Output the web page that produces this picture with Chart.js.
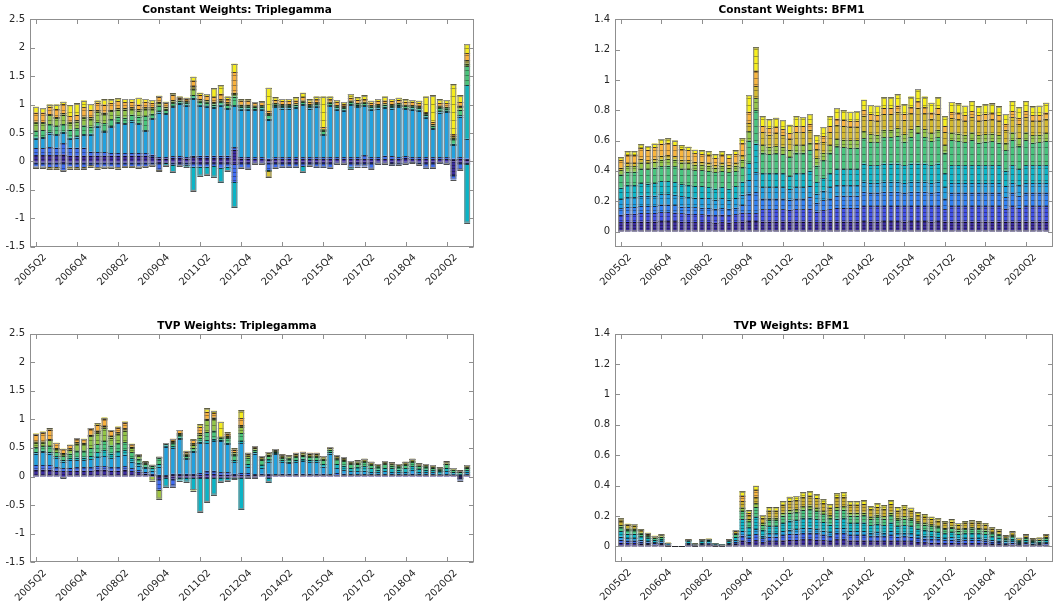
<!DOCTYPE html>
<html>
<head>
<meta charset="utf-8">
<title>Combination weights</title>
<script src="https://cdn.jsdelivr.net/npm/chart.js@4.4.1/dist/chart.umd.min.js"></script>
<style>
  html, body { margin: 0; padding: 0; background: #ffffff; }
  body { width: 1059px; height: 605px; position: relative; overflow: hidden; }
  canvas { position: absolute; }
</style>
</head>
<body>
<canvas id="cwTriple" width="530" height="300" style="left:0px; top:0px;"></canvas>
<canvas id="cwBfm" width="529" height="300" style="left:530px; top:0px;"></canvas>
<canvas id="tvpTriple" width="530" height="305" style="left:0px; top:300px;"></canvas>
<canvas id="tvpBfm" width="529" height="305" style="left:530px; top:300px;"></canvas>
<script>
// ============================
// CATEGORIES / TICKS
// ============================
const quarters = [
  "2005Q2","2005Q3","2005Q4","2006Q1","2006Q2","2006Q3","2006Q4","2007Q1","2007Q2","2007Q3",
  "2007Q4","2008Q1","2008Q2","2008Q3","2008Q4","2009Q1","2009Q2","2009Q3","2009Q4","2010Q1",
  "2010Q2","2010Q3","2010Q4","2011Q1","2011Q2","2011Q3","2011Q4","2012Q1","2012Q2","2012Q3",
  "2012Q4","2013Q1","2013Q2","2013Q3","2013Q4","2014Q1","2014Q2","2014Q3","2014Q4","2015Q1",
  "2015Q2","2015Q3","2015Q4","2016Q1","2016Q2","2016Q3","2016Q4","2017Q1","2017Q2","2017Q3",
  "2017Q4","2018Q1","2018Q2","2018Q3","2018Q4","2019Q1","2019Q2","2019Q3","2019Q4","2020Q1",
  "2020Q2","2020Q3","2020Q4","2021Q1"
];
const xTickIdx = [0, 6, 12, 18, 24, 30, 36, 42, 48, 54, 60];
const yTicksTriple = [-1.5, -1, -0.5, 0, 0.5, 1, 1.5, 2, 2.5];
const yTicksBfm = [0, 0.2, 0.4, 0.6, 0.8, 1, 1.2, 1.4];

// ============================
// CONSTANT WEIGHTS: TRIPLEGAMMA
// ============================
const tlPurple = [
  .11,.11,.11,.11,.12,.10,.10,.10,.10,.10, .10,.10,.10,.10,.10,.10,.10,.08,.05,.05,
  .06,.06,.05,.07,.06,.06,.06,.06,.06,.20, .05,.05,.04,.04,.03,.04,.04,.04,.04,.04,
  .04,.04,.04,.04,.04,.04,.04,.04,.04,.04, .04,.04,.04,.04,.06,.04,.04,.04,.04,.04,
  .04,.03,.04,.03];
const tlBlue = [
  .12,.12,.14,.13,.20,.14,.14,.14,.07,.06, .06,.05,.05,.05,.05,.05,.05,.04,.03,.03,
  .03,.03,.03,.03,.04,.04,.04,.04,.04,.05, .03,.03,.03,.03,.02,.03,.03,.03,.03,.03,
  .03,.03,.03,.03,.03,.03,.03,.03,.07,.03, .03,.06,.05,.03,.03,.03,.03,.03,.03,.03,
  .03,.02,.03,.02];
const tlLightBlue = [
  .17,.18,.24,.22,.18,.16,.18,.22,.30,.45, .35,.45,.52,.50,.55,.50,.38,.62,.78,.75,
  .86,.92,.90,1.0,.88,.86,.84,.88,.82,.72, .83,.83,.83,.84,.68,.88,.86,.86,.87,.92,
  .86,.89,.39,.90,.84,.82,.92,.88,.86,.84, .86,.84,.84,.88,.83,.84,.82,.70,.50,.79,
  .80,.24,.72,.35];
const tlTeal = [
  .02,.02,.02,.02,.02,.02,.02,.02,.02,.02, .02,.02,.02,.02,.02,.02,.02,.02,.02,.02,
  .02,.02,.02,.02,.02,.02,.02,.02,.02,.02, .02,.02,.02,.02,.02,.02,.02,.02,.02,.02,
  .02,.02,.02,.02,.02,.02,.02,.02,.02,.02, .02,.02,.02,.02,.02,.02,.02,.02,.02,.02,
  .02,.02,.02,.94];
const tlGreen = [
  .12,.12,.15,.14,.14,.14,.14,.15,.12,.06, .14,.12,.10,.10,.10,.12,.25,.08,.10,.05,
  .05,.03,.03,.05,.05,.05,.04,.04,.05,.15, .03,.03,.03,.03,.06,.03,.03,.03,.03,.03,
  .03,.03,.06,.03,.03,.03,.03,.03,.03,.03, .03,.03,.03,.03,.03,.03,.03,.03,.03,.06,
  .04,.08,.10,.33];
const tlLime = [
  .14,.12,.15,.14,.16,.12,.12,.14,.14,.18, .16,.14,.12,.14,.10,.10,.12,.08,.04,.03,
  .03,.01,.01,.10,.02,.02,.02,.02,.02,.04, .01,.01,.01,.01,.02,.01,.01,.01,.01,.01,
  .01,.01,.02,.01,.01,.01,.01,.01,.01,.01, .01,.01,.01,.01,.01,.01,.01,.01,.01,.02,
  .01,.02,.04,.05];
const tlOlive = [
  .02,.02,.02,.02,.03,.02,.02,.02,.03,.03, .03,.03,.03,.03,.03,.03,.03,.03,.03,.03,
  .03,.02,.02,.05,.03,.03,.03,.03,.03,.03, .03,.03,.02,.02,.02,.02,.02,.02,.02,.02,
  .02,.02,.01,.02,.02,.02,.02,.02,.02,.02, .02,.02,.02,.02,.02,.02,.02,.02,.03,.02,
  .02,.03,.03,.06];
const tlOrange = [
  .16,.17,.13,.14,.16,.10,.10,.16,.13,.13, .14,.12,.12,.10,.10,.08,.10,.08,.08,.06,
  .08,.03,.04,.10,.07,.07,.08,.10,.06,.36, .06,.06,.05,.05,.04,.05,.05,.05,.05,.06,
  .04,.05,.03,.04,.05,.04,.05,.05,.05,.04, .05,.05,.05,.05,.05,.05,.05,.02,.04,.05,
  .06,.04,.06,.12];
const tlYellow = [
  .10,.08,.04,.08,.04,.19,.20,.12,.10,.04, .09,.06,.05,.06,.05,.12,.05,.05,.025,.03,
  .035,.02,.02,.07,.04,.035,.155,.15,.04,.15, .03,.03,.015,.015,.406,.046,.04,.04,.056,.08,
  .04,.05,.54,.05,.04,.035,.065,.046,.06,.037, .04,.07,.04,.04,.04,.04,.047,.27,.46,.06,
  .06,.875,.12,.165];
const tlNegPurple = [
  -.02,-.02,-.02,-.02,-.03,-.02,-.02,-.02,-.02,-.02, -.02,-.02,-.02,-.02,-.02,-.02,-.02,-.02,-.03,-.02,
  -.02,-.03,-.02,-.03,-.03,-.03,-.03,-.03,-.03,-.05, -.03,-.03,-.02,-.02,-.02,-.03,-.03,-.03,-.03,-.03,
  -.03,-.03,-.03,-.03,-.02,-.02,-.03,-.03,-.03,-.03, -.02,-.02,-.03,-.02,-.02,-.01,-.02,-.03,-.03,-.015,
  -.02,-.24,-.03,-.02];
const tlNegBlue = [
  -.07,-.07,-.08,-.08,-.12,-.07,-.08,-.08,-.05,-.08, -.07,-.07,-.08,-.06,-.06,-.07,-.06,-.04,-.12,-.01,
  -.04,-.05,-.04,-.06,-.06,-.06,-.05,-.08,-.06,-.31, -.09,-.10,-.027,-.027,-.13,-.09,-.075,-.075,-.075,-.05,
  -.05,-.075,-.075,-.09,-.03,-.03,-.06,-.06,-.06,-.10, -.03,-.03,-.04,-.04,-.03,-.015,-.045,-.08,-.09,-.02,
  -.03,-.08,-.12,-.03];
const tlNegCyan = [
  0,0,0,0,0,0,0,0,0,0, 0,0,0,0,0,0,0,0,0,-.05,
  -.13,0,-.035,-.43,-.16,-.15,-.19,-.26,-.08,-.45, 0,0,0,0,-.02,0,0,0,0,-.11,
  0,0,0,0,0,0,-.04,0,0,0, 0,0,0,0,0,0,0,0,0,0,
  0,0,0,-1.03];
const tlNegYellow = [
  -.03,-.03,-.04,-.04,-.02,-.04,-.04,-.035,-.025,-.03, -.03,-.03,-.03,-.025,-.025,-.03,-.02,-.02,-.015,0,
  0,0,0,0,0,0,0,0,0,0, 0,0,0,0,-.11,0,0,0,0,0,
  0,0,0,0,0,0,0,0,0,0, 0,0,0,0,0,0,0,0,0,0,
  0,0,0,0];

// ============================
// CONSTANT WEIGHTS: BFM1
// ============================
const trPurple = [
  .06,.063,.063,.066,.065,.066,.068,.068,.067,.064, .063,.062,.06,.06,.058,.06,.058,.06,.066,.07,
  .07,.066,.066,.066,.066,.066,.066,.066,.066,.06, .065,.066,.066,.066,.066,.066,.068,.066,.066,.068,
  .068,.068,.066,.068,.068,.068,.066,.068,.066,.066, .066,.066,.066,.066,.066,.066,.066,.066,.066,.066,
  .066,.066,.066,.066];
const trIndigo = [
  .05,.054,.054,.056,.056,.056,.058,.058,.057,.055, .054,.053,.053,.052,.05,.052,.05,.053,.058,.05,
  .05,.08,.08,.08,.08,.078,.08,.08,.085,.07, .075,.08,.09,.09,.09,.09,.10,.10,.10,.10,
  .10,.10,.10,.10,.10,.10,.10,.10,.08,.10, .10,.10,.10,.10,.10,.10,.10,.085,.10,.09,
  .10,.10,.10,.10];
const trBlue = [
  .042,.045,.045,.047,.047,.047,.05,.05,.048,.046, .045,.044,.044,.043,.042,.043,.042,.044,.05,.13,
  .14,.07,.07,.07,.07,.066,.07,.07,.075,.06, .065,.07,.08,.08,.08,.08,.095,.09,.09,.095,
  .095,.095,.09,.095,.095,.095,.09,.095,.07,.09, .09,.09,.09,.09,.09,.09,.09,.075,.09,.08,
  .09,.09,.09,.09];
const trAzure = [
  .062,.065,.065,.068,.068,.068,.07,.07,.07,.067, .066,.064,.064,.063,.06,.063,.06,.064,.07,.09,
  .13,.075,.075,.075,.075,.07,.075,.075,.075,.06, .065,.075,.07,.07,.07,.07,.065,.065,.065,.065,
  .065,.065,.065,.065,.065,.065,.065,.065,.075,.065, .065,.065,.065,.065,.065,.065,.065,.075,.065,.07,
  .065,.065,.065,.065];
const trTeal = [
  .075,.078,.078,.082,.08,.082,.085,.085,.084,.08, .078,.077,.077,.076,.073,.076,.073,.077,.084,.11,
  .19,.094,.094,.094,.094,.085,.094,.094,.10,.075, .08,.094,.105,.105,.105,.105,.12,.115,.115,.12,
  .12,.12,.115,.12,.12,.12,.115,.12,.094,.115, .115,.115,.115,.115,.115,.115,.115,.10,.115,.105,
  .115,.115,.115,.115];
const trGreen = [
  .086,.09,.09,.096,.094,.101,.099,.104,.104,.103, .104,.105,.107,.106,.107,.106,.107,.102,.097,.15,
  .22,.135,.125,.13,.125,.125,.135,.135,.135,.11, .12,.135,.15,.145,.14,.142,.166,.155,.152,.173,
  .173,.183,.157,.176,.20,.176,.162,.173,.135,.165, .16,.152,.167,.15,.157,.16,.15,.135,.167,.153,
  .167,.15,.152,.162];
const trLime = [
  .03,.035,.035,.04,.04,.04,.045,.045,.045,.04, .04,.035,.035,.035,.03,.035,.03,.035,.05,.06,
  .08,.05,.05,.05,.05,.05,.05,.05,.05,.05, .05,.05,.05,.05,.05,.05,.05,.05,.05,.05,
  .05,.05,.05,.05,.05,.05,.05,.05,.05,.05, .05,.05,.05,.05,.05,.05,.05,.05,.05,.05,
  .05,.05,.05,.05];
const trGold = [
  .015,.02,.02,.025,.02,.02,.025,.025,.02,.02, .02,.02,.02,.02,.02,.02,.02,.02,.03,.055,
  .08,.085,.08,.085,.075,.07,.085,.085,.085,.06, .07,.085,.094,.09,.087,.088,.10,.092,.09,.104,
  .104,.11,.094,.105,.12,.105,.097,.104,.085,.098, .095,.09,.10,.09,.094,.095,.09,.085,.10,.096,
  .10,.09,.09,.097];
const trOrange = [
  .05,.055,.055,.07,.07,.075,.08,.08,.075,.07, .065,.055,.05,.05,.045,.05,.045,.055,.08,.075,
  .10,.04,.04,.04,.04,.04,.04,.04,.04,.04, .04,.04,.04,.04,.04,.04,.04,.04,.04,.04,
  .04,.04,.04,.04,.04,.04,.04,.04,.04,.04, .04,.04,.04,.04,.04,.04,.04,.04,.04,.04,
  .04,.04,.04,.04];
const trYellow = [
  .02,.025,.025,.025,.025,.025,.03,.03,.03,.025, .025,.025,.025,.025,.025,.025,.025,.025,.03,.11,
  .155,.065,.06,.06,.06,.055,.065,.06,.064,.05, .06,.065,.07,.064,.062,.064,.066,.062,.062,.07,
  .07,.074,.063,.071,.082,.071,.065,.07,.065,.066, .064,.062,.067,.059,.063,.064,.059,.064,.067,.07,
  .067,.059,.062,.065];

// ============================
// TVP WEIGHTS: TRIPLEGAMMA
// ============================
const blPurple = [
  .12,.12,.12,.10,.09,.09,.10,.10,.10,.12, .12,.10,.10,.12,.09,.07,.05,.03,.01,.01,
  .02,.02,.02,.02,.02,.04,.04,.03,.03,.02, .02,.02,.02,.02,.02,.02,.02,.02,.02,.02,
  .02,.02,.02,.02,.02,.02,.02,.02,.02,.02, .02,.02,.02,.02,.02,.02,.02,.02,.02,.02,
  .02,.02,.01,.02];
const blBlue = [
  .08,.08,.08,.06,.05,.06,.06,.06,.06,.06, .06,.06,.06,.06,.05,.04,.03,.02,.02,.01,
  .03,.03,.03,.03,.04,.06,.06,.04,.04,.03, .04,.04,.02,.03,.03,.02,.03,.03,.03,.03,
  .03,.03,.03,.02,.04,.03,.02,.02,.02,.02, .02,.02,.02,.02,.02,.03,.02,.02,.02,.01,
  .02,.01,.01,.02];
const blLightBlue = [
  .20,.22,.20,.16,.12,.14,.12,.12,.14,.16, .18,.16,.20,.20,.12,.08,.06,.05,.14,.50,
  .45,.60,.25,.38,.52,.48,.52,.55,.50,.20, .52,.10,.36,.10,.20,.35,.20,.18,.20,.22,
  .20,.20,.12,.36,.09,.06,.05,.05,.06,.04, .03,.05,.04,.03,.04,.06,.04,.03,.03,.02,
  .05,.02,.01,.03];
const blTeal = [
  .03,.03,.03,.03,.03,.03,.05,.05,.06,.08, .10,.08,.08,.08,.06,.05,.03,.04,.05,.02,
  .03,.03,.02,.02,.03,.05,.04,.02,.02,.04, .04,.06,.03,.05,.05,.02,.03,.03,.04,.04,
  .04,.04,.05,.03,.07,.08,.06,.07,.08,.06, .05,.06,.06,.05,.06,.07,.05,.05,.04,.04,
  .06,.03,.02,.04];
const blGreen = [
  .08,.08,.10,.07,.06,.08,.12,.12,.14,.14, .16,.14,.14,.14,.10,.07,.04,.04,.10,.02,
  .05,.04,.04,.05,.06,.15,.14,.03,.08,.08, .14,.10,.03,.08,.06,.02,.04,.05,.05,.05,
  .05,.05,.07,.03,.08,.08,.06,.06,.07,.06, .05,.06,.05,.05,.06,.07,.05,.05,.04,.03,
  .06,.03,.02,.04];
const blLime = [
  .08,.06,.10,.06,.04,.06,.12,.12,.20,.20, .22,.14,.16,.20,.08,.04,.02,.01,.02,.01,
  .02,.02,.02,.05,.06,.20,.20,.01,.02,.03, .10,.03,.01,.02,.02,.01,.02,.02,.02,.02,
  .02,.02,.02,.01,.02,.02,.02,.02,.02,.018, .01,.02,.02,.01,.02,.02,.01,.01,.01,.01,
  .014,.01,.005,.01];
const blOlive = [
  .02,.02,.02,.02,.02,.03,.03,.02,.03,.04, .04,.03,.03,.04,.02,.02,.02,.015,.005,.006,
  .02,.02,.02,.03,.03,.03,.03,.01,.02,.03, .04,.04,.03,.04,.04,.03,.04,.04,.04,.04,
  .04,.04,.04,.03,.035,.04,.04,.04,.04,.04, .04,.04,.04,.04,.04,.04,.04,.04,.04,.03,
  .04,.03,.03,.04];
const blOrange = [
  .12,.15,.17,.08,.067,.057,.064,.06,.10,.10, .12,.085,.083,.10,.044,.013,.004,0,0,.01,
  .04,.05,.03,.05,.10,.12,.08,.005,.04,.04, .12,.02,.02,.017,.01,.005,.007,0,.016,.014,
  .016,.016,.007,.006,0,0,0,0,0,0, 0,0,0,0,0,0,0,0,0,0,
  0,0,0,0];
const blYellow = [
  .02,.025,.02,.01,.01,.01,.01,.01,.02,.03, .03,.02,.02,.02,.01,.01,.01,0,0,0,
  0,.005,.02,.02,.05,.06,.04,.26,.02,.02, .135,.006,.013,0,0,.005,0,0,0,0,
  0,0,0,.01,.02,.01,0,0,0,0, 0,0,0,0,0,0,0,0,0,0,
  0,0,0,0];
const blNegPurple = [
  0,0,0,0,-.01,0,0,0,0,0, 0,0,0,0,0,0,0,0,-.05,-.02,
  -.04,-.02,-.02,-.02,-.03,-.03,-.02,-.02,-.02,-.02, -.02,-.02,-.02,0,-.02,0,0,0,0,0,
  0,0,0,0,0,0,0,0,0,0, 0,0,0,0,0,0,0,0,0,0,
  0,0,-.03,0];
const blNegBlue = [
  0,0,0,0,-.02,0,0,0,0,0, 0,0,0,0,0,0,0,0,-.18,0,
  -.14,0,0,0,0,0,0,0,0,0, 0,0,0,0,0,0,0,0,0,0,
  0,0,0,0,0,0,0,0,0,0, 0,0,0,0,0,0,0,0,0,0,
  0,0,-.04,0];
const blNegCyan = [
  0,0,0,0,0,0,0,0,0,0, 0,0,0,0,0,0,0,0,0,-.16,
  0,-.05,-.07,-.20,-.59,-.415,-.30,-.075,-.06,-.015, -.555,0,0,0,-.08,0,0,0,0,0,
  0,0,0,0,0,0,0,0,0,0, 0,0,0,0,0,0,0,0,0,0,
  0,0,0,0];
const blNegLime = [
  0,0,0,0,0,0,0,0,0,0, 0,0,0,0,0,0,0,-.07,-.16,0,
  0,0,0,-.025,0,0,0,0,0,0, 0,0,0,0,0,0,0,0,0,0,
  0,0,0,0,0,0,0,0,0,0, 0,0,0,0,0,0,0,0,0,0,
  0,0,0,0];

// ============================
// TVP WEIGHTS: BFM1
// ============================
const brPurple = [
  .025,.02,.02,.018,.015,.012,.014,.006,.001,.001, .01,.005,.01,.011,.005,.004,.01,.016,.037,.03,
  .04,.028,.033,.033,.039,.043,.043,.046,.047,.045, .04,.036,.046,.046,.039,.039,.039,.034,.037,.035,
  .039,.033,.035,.033,.029,.027,.025,.024,.021,.023, .02,.021,.022,.021,.02,.017,.015,.01,.013,.008,
  .011,.007,.008,.011];
const brBlue = [
  .02,.018,.018,.014,.011,.009,.01,.004,.001,.001, .007,.003,.007,.008,.004,.003,.007,.013,.035,.025,
  .04,.025,.031,.031,.036,.039,.04,.043,.044,.041, .037,.033,.042,.043,.036,.036,.036,.032,.034,.032,
  .036,.031,.032,.031,.027,.025,.024,.022,.02,.021, .018,.02,.021,.02,.018,.015,.014,.009,.012,.007,
  .01,.007,.007,.01];
const brAzure = [
  .02,.015,.015,.012,.01,.008,.009,.003,0,0, .006,.002,.006,.006,.003,.002,.006,.011,.03,.02,
  .035,.018,.023,.023,.027,.029,.03,.032,.033,.031, .028,.025,.032,.032,.027,.027,.027,.024,.026,.024,
  .027,.023,.024,.023,.02,.019,.018,.017,.015,.016, .014,.015,.015,.015,.014,.011,.01,.007,.009,.005,
  .007,.005,.005,.007];
const brTeal = [
  .035,.03,.03,.022,.018,.014,.016,.005,.001,.001, .01,.004,.01,.011,.004,.003,.01,.022,.077,.05,
  .08,.038,.046,.046,.053,.059,.06,.064,.065,.062, .056,.05,.063,.064,.053,.053,.055,.048,.051,.049,
  .055,.046,.049,.046,.04,.038,.035,.033,.03,.032, .028,.03,.031,.03,.027,.023,.02,.013,.018,.01,
  .014,.01,.011,.015];
const brGreen = [
  .03,.025,.025,.018,.014,.011,.012,.004,0,0, .008,.003,.008,.008,.003,.002,.008,.018,.055,.04,
  .065,.033,.041,.041,.048,.052,.053,.057,.058,.055, .05,.044,.056,.057,.048,.048,.048,.042,.045,.043,
  .048,.041,.043,.041,.036,.034,.031,.03,.026,.028, .025,.026,.027,.026,.024,.02,.018,.012,.016,.009,
  .013,.008,.009,.013];
const brLime = [
  .01,.01,.008,.006,.005,.004,.004,.001,0,0, .002,.001,.002,.002,.001,0,.002,.006,.022,.015,
  .025,.012,.015,.015,.018,.02,.02,.021,.022,.021, .019,.017,.021,.021,.018,.018,.018,.016,.017,.016,
  .018,.015,.016,.015,.013,.013,.012,.011,.01,.011, .009,.01,.01,.01,.009,.008,.007,.004,.006,.004,
  .005,.003,.004,.005];
const brGold = [
  .03,.022,.021,.017,.012,.009,.011,.002,0,0, .004,.002,.004,.005,.002,.001,.004,.016,.04,.027,
  .04,.035,.047,.047,.053,.059,.06,.064,.065,.062, .056,.05,.063,.064,.053,.053,.055,.048,.051,.049,
  .055,.047,.049,.046,.04,.038,.035,.033,.03,.032, .028,.03,.031,.03,.028,.023,.021,.013,.018,.01,
  .014,.009,.011,.015];
const brOrange = [
  .005,0,0,0,0,0,0,0,0,0, 0,0,0,0,0,0,0,0,.037,.01,
  .045,0,0,0,0,0,0,0,0,0, 0,0,0,0,0,0,0,0,0,0,
  0,0,0,0,0,0,0,0,0,0, 0,0,0,0,0,0,0,0,0,0,
  0,0,0,0];
const brYellow = [
  .01,.01,.01,.007,.005,.003,.004,.001,0,0, .001,0,.001,.001,0,0,.001,.006,.03,.02,
  .03,.018,.021,.021,.023,.026,.026,.029,.029,.026, .024,.022,.027,.029,.023,.023,.025,.02,.023,.022,
  .025,.021,.022,.02,.019,.017,.016,.015,.013,.015, .012,.013,.014,.013,.012,.01,.009,.005,.007,.004,
  .005,.004,.004,.005];

// ============================
// STYLE
// ============================
const fontFamily = "'DejaVu Sans', sans-serif";
const segEdge = "rgba(0,0,0,0.68)";
const outlineColor = "#8d8d8d";
const axisColor = "#8f8f8f";
const labelColor = "#262626";

const tripleColors = {
  purple: "#3b2a9f", blue: "#3d6ff0", lightBlue: "#22a1de", teal: "#15b5bd",
  green: "#48c47a", lime: "#92c548", olive: "#8d8538", orange: "#f8b13e", yellow: "#f5ec1e",
  negPurple: "#3a2c9c", negBlue: "#3f6cf2", negCyan: "#0ab4c6"
};
const bfmColors = {
  purple: "#3b2b9f", indigo: "#4150e4", blue: "#2f80f3", azure: "#1e9fe2", teal: "#0db5c6",
  green: "#48c47e", lime: "#93c648", gold: "#d4b92f", orange: "#f9b53e", yellow: "#f7ef1c"
};

// thin dark stripes inside a band, the look of many tiny stacked segments
function stripes(color, gap) {
  if (!gap) return color;
  const c = document.createElement("canvas");
  c.width = 4; c.height = gap;
  const g = c.getContext("2d");
  g.fillStyle = color; g.fillRect(0, 0, 4, gap);
  g.fillStyle = "rgba(0,0,0,0.33)"; g.fillRect(0, 0, 4, 1);
  return g.createPattern(c, "repeat");
}

// dark edge line at the end of every segment, 1px whatever the segment height
const edgePlugin = {
  id: "edges",
  afterDatasetDraw(chart, args) {
    const meta = args.meta;
    if (meta.stack === "outline") return;
    const ctx = chart.ctx;
    ctx.save();
    ctx.strokeStyle = segEdge;
    ctx.lineWidth = 1;
    ctx.beginPath();
    meta.data.forEach((el, j) => {
      const p = meta._parsed[j];
      if (!p || p.y === null || p.y === undefined || isNaN(p.y)) return;
      const yy = Math.round(el.y) + 0.5;
      ctx.moveTo(el.x - el.width / 2, yy);
      ctx.lineTo(el.x + el.width / 2, yy);
    });
    ctx.stroke();
    ctx.restore();
  }
};

// axes box with inward ticks on all four sides
const boxPlugin = {
  id: "box",
  afterDraw(chart) {
    const { ctx, chartArea: a, scales: { x, y } } = chart;
    const L = Math.round(a.left) + 0.5, R = Math.round(a.right) - 0.5;
    const T = Math.round(a.top) + 0.5, B = Math.round(a.bottom) - 0.5;
    const len = 4.5;
    ctx.save();
    ctx.strokeStyle = axisColor;
    ctx.lineWidth = 1;
    ctx.strokeRect(L, T, R - L, B - T);
    ctx.beginPath();
    x.ticks.forEach(t => {
      const px = Math.round(x.getPixelForValue(t.value)) + 0.5;
      ctx.moveTo(px, B); ctx.lineTo(px, B - len);
      ctx.moveTo(px, T); ctx.lineTo(px, T + len);
    });
    y.ticks.forEach(t => {
      const py = Math.round(y.getPixelForValue(t.value)) + 0.5;
      ctx.moveTo(L, py); ctx.lineTo(L + len, py);
      ctx.moveTo(R, py); ctx.lineTo(R - len, py);
    });
    ctx.stroke();
    ctx.restore();
  }
};

function makeChart(id, title, bands, yTicks, yMin, yMax, fit) {
  const datasets = bands.map(b => ({
    data: b.data.map((v, i) => ({ x: i, y: v === 0 ? null : v })),
    backgroundColor: stripes(b.color, b.gap),
    borderWidth: 0,
    stack: "w"
  }));

  // grey frame around each whole bar
  const topSum = quarters.map((q, i) => bands.reduce((s, b) => s + Math.max(b.data[i], 0), 0));
  const lowSum = quarters.map((q, i) => bands.reduce((s, b) => s + Math.min(b.data[i], 0), 0));
  datasets.push({
    data: quarters.map((q, i) => ({ x: i, y: [lowSum[i], topSum[i]] })),
    backgroundColor: "rgba(0,0,0,0)",
    borderColor: outlineColor,
    borderWidth: 1.2,
    borderSkipped: false,
    grouped: false,
    stack: "outline",
    order: -1
  });

  return new Chart(document.getElementById(id).getContext("2d"), {
    type: "bar",
    data: { datasets },
    plugins: [edgePlugin, boxPlugin],
    options: {
      responsive: false,
      animation: false,
      devicePixelRatio: 1,
      layout: { padding: { left: 0, right: fit.padRight, top: 0, bottom: 0 } },
      datasets: { bar: { categoryPercentage: 1, barPercentage: 0.86 } },
      plugins: {
        legend: { display: false },
        tooltip: { enabled: false },
        title: {
          display: true,
          text: title,
          color: "#000",
          font: { family: fontFamily, size: 10.5, weight: "bold" },
          padding: { top: fit.titleTop, bottom: fit.titleBottom }
        }
      },
      scales: {
        x: {
          type: "linear",
          offset: false,
          stacked: true,
          min: -0.88,
          max: 64,
          grid: { display: false, drawTicks: false },
          border: { display: false },
          afterBuildTicks: s => { s.ticks = xTickIdx.map(v => ({ value: v })); },
          afterFit: s => { s.height = fit.xHeight; },
          ticks: {
            autoSkip: false,
            minRotation: 45,
            maxRotation: 45,
            padding: 5,
            labelOffset: 9,
            color: labelColor,
            font: { family: fontFamily, size: 10 },
            callback: (v, i) => quarters[xTickIdx[i]]
          }
        },
        y: {
          stacked: true,
          min: yMin,
          max: yMax,
          grid: { display: false, drawTicks: false },
          border: { display: false },
          afterBuildTicks: s => { s.ticks = yTicks.map(v => ({ value: v })); },
          afterFit: s => { s.width = fit.yWidth; },
          ticks: {
            padding: 5,
            color: labelColor,
            font: { family: fontFamily, size: 10 },
            callback: (v, i) => String(yTicks[i])
          }
        }
      }
    }
  });
}

const tc = tripleColors, bc = bfmColors;

makeChart("cwTriple", "Constant Weights: Triplegamma", [
  { data: tlPurple, color: tc.purple, gap: 3 }, { data: tlBlue, color: tc.blue, gap: 4 },
  { data: tlLightBlue, color: tc.lightBlue }, { data: tlTeal, color: tc.teal },
  { data: tlGreen, color: tc.green, gap: 5 }, { data: tlLime, color: tc.lime, gap: 5 },
  { data: tlOlive, color: tc.olive }, { data: tlOrange, color: tc.orange, gap: 5 },
  { data: tlYellow, color: tc.yellow, gap: 8 },
  { data: tlNegPurple, color: tc.negPurple, gap: 3 }, { data: tlNegBlue, color: tc.negBlue, gap: 4 },
  { data: tlNegCyan, color: tc.negCyan }, { data: tlNegYellow, color: "#d9c436" }
], yTicksTriple, -1.5, 2.5, { padRight: 56, titleTop: 4, titleBottom: 2.7, xHeight: 53.3, yWidth: 30 });

makeChart("cwBfm", "Constant Weights: BFM1", [
  { data: trPurple, color: bc.purple, gap: 3 }, { data: trIndigo, color: bc.indigo, gap: 4 },
  { data: trBlue, color: bc.blue, gap: 5 }, { data: trAzure, color: bc.azure, gap: 6 },
  { data: trTeal, color: bc.teal, gap: 6 }, { data: trGreen, color: bc.green, gap: 7 },
  { data: trLime, color: bc.lime, gap: 6 }, { data: trGold, color: bc.gold, gap: 6 },
  { data: trOrange, color: bc.orange, gap: 6 }, { data: trYellow, color: bc.yellow, gap: 7 }
], yTicksBfm, -0.1, 1.4, { padRight: 6, titleTop: 4, titleBottom: 2.7, xHeight: 53.3, yWidth: 85 });

makeChart("tvpTriple", "TVP Weights: Triplegamma", [
  { data: blPurple, color: tc.purple, gap: 3 }, { data: blBlue, color: tc.blue, gap: 4 },
  { data: blLightBlue, color: tc.lightBlue }, { data: blTeal, color: tc.teal, gap: 4 },
  { data: blGreen, color: tc.green, gap: 4 }, { data: blLime, color: tc.lime, gap: 5 },
  { data: blOlive, color: tc.olive, gap: 3 }, { data: blOrange, color: tc.orange, gap: 5 },
  { data: blYellow, color: tc.yellow, gap: 8 },
  { data: blNegPurple, color: tc.negPurple, gap: 3 }, { data: blNegBlue, color: tc.negBlue, gap: 4 },
  { data: blNegCyan, color: tc.negCyan }, { data: blNegLime, color: "#a1c640" }
], yTicksTriple, -1.5, 2.5, { padRight: 56, titleTop: 20, titleBottom: 0.9, xHeight: 42.7, yWidth: 30 });

makeChart("tvpBfm", "TVP Weights: BFM1", [
  { data: brPurple, color: bc.purple, gap: 3 }, { data: brBlue, color: "#3a64ee", gap: 3 },
  { data: brAzure, color: bc.azure, gap: 3 }, { data: brTeal, color: bc.teal, gap: 3 },
  { data: brGreen, color: bc.green, gap: 3 }, { data: brLime, color: bc.lime, gap: 3 },
  { data: brGold, color: "#c9ae2e", gap: 3 }, { data: brOrange, color: bc.orange, gap: 3 },
  { data: brYellow, color: bc.yellow, gap: 3 }
], yTicksBfm, -0.1, 1.4, { padRight: 6, titleTop: 20, titleBottom: 0.9, xHeight: 43.3, yWidth: 85 });
</script>
</body>
</html>
